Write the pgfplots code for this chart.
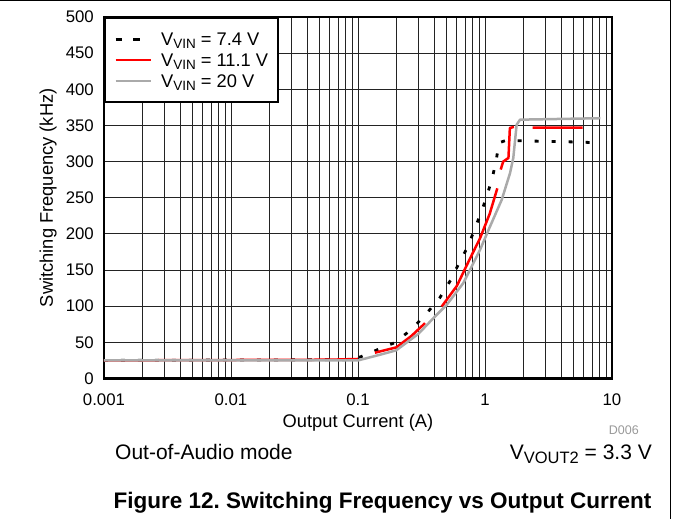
\documentclass[border=0pt]{standalone}
\usepackage{fontspec}
\setmainfont{Liberation Sans}
\usepackage{pgfplots}
\pgfplotsset{compat=1.18}
\usepackage{pgfplotstable}
\frenchspacing

\definecolor{curvegray}{RGB}{170,170,170}
\definecolor{gridc}{RGB}{35,35,35}

\newcommand{\lsub}[3]{\raisebox{-#2}{\fontsize{#1}{#1}\selectfont #3}}

\pgfplotstableread{
I f
0.001 25
0.08 26
0.105 30
0.143 40
0.195 49.6
0.264 68
0.347 90
0.442 112
0.536 136
0.627 160
0.738 183.5
0.834 208
0.94 231
1.04 254
1.14 277
1.22 300
1.29 326
1.5 330
1.65 329
3.05 328
5.6 327
7.7 326
}\blacktab

\pgfplotstableread{
I f
0.001 25
0.06 26
0.1 27
0.12 nan
0.136 35.7
0.2 43
0.264 59
0.337 76.5
0.39 nan
0.456 99.5
0.6 128
0.753 164
0.914 194
1.09 228
1.25 263
1.29 nan
1.33 289
1.39 300
1.53 305
1.57 346.5
1.69 348
2.0 nan
2.37 347
5.87 347
}\redtab

\pgfplotstableread{
I f
0.001 25
0.1 25
0.15 33
0.2 39
0.3 62
0.4 85
0.5 102
0.675 132
0.834 164
0.914 178
1.094 210
1.353 247
1.574 284
1.67 305
1.775 351
1.888 358
8.1 360
}\graytab

\begin{document}
\begin{tikzpicture}
\useasboundingbox (0,0) rectangle (673bp,519bp);
\draw[line width=1.2bp] (0,518.4bp) -- (670.4bp,518.4bp) -- (670.4bp,0);
\begin{axis}[
  at={(104bp,140.5bp)}, anchor=south west,
  scale only axis, width=508bp, height=361.5bp,
  xmode=log, xmin=0.001, xmax=10, ymin=0, ymax=500,
  xtick={0.001,0.01,0.1,1,10},
  xticklabels={0.001,0.01,0.1,1,10},
  ytick={0,50,...,500},
  /pgf/number format/assume math mode=true,
  grid=both,
  major grid style={gridc, line width=0.85bp},
  minor grid style={gridc, line width=0.85bp},
  tick style={draw=none},
  axis line style={line width=2.5bp},
  ticklabel style={font=\fontsize{16.8bp}{18bp}\selectfont},
  xticklabel style={anchor=base, inner sep=0pt, yshift=-27.5bp},
  yticklabel style={anchor=east, inner sep=0pt, xshift=-10bp},
  xlabel={Output Current (A)},
  ylabel={Switching Frequency (kHz)},
  label style={font=\fontsize{18.3bp}{20bp}\selectfont},
  xlabel style={at={(axis description cs:0.5,-0.1369)}, anchor=base, inner sep=0pt},
  ylabel style={at={(axis description cs:-0.1004,0.5)}, anchor=base, rotate=0, inner sep=0pt},
  unbounded coords=jump,
  legend style={at={(axis description cs:0,1)}, anchor=north west,
    draw=black, line width=2.5bp, fill=white,
    inner xsep=9bp, inner ysep=12bp,
    font=\fontsize{18.3bp}{20bp}\selectfont,
    row sep=3bp,
    /tikz/every odd column/.append style={column sep=8bp},
    nodes={inner sep=1bp, text height=14bp, text depth=2bp}},
  legend cell align=left,
  legend image code/.code={\draw[#1] (0bp,0bp) -- (35bp,0bp);},
]
\addplot[black, line width=2.8bp, dash pattern=on 4bp off 13bp,
  legend image post style={dash pattern=on 6.7bp off 11bp}]
  table[x=I,y=f]{\blacktab};
\addlegendentry{V\lsub{13.5bp}{3.5bp}{VIN} = 7.4 V}
\addplot[red, line width=2.5bp, line join=round] table[x=I,y=f]{\redtab};
\addlegendentry{V\lsub{13.5bp}{3.5bp}{VIN} = 11.1 V}
\addplot[curvegray, line width=2.5bp, line join=round] table[x=I,y=f]{\graytab};
\addlegendentry{V\lsub{13.5bp}{3.5bp}{VIN} = 20 V}
\end{axis}
\node[anchor=base east, inner sep=0pt, text=black!40, font=\fontsize{12.5bp}{14bp}\selectfont] at (639bp,84bp) {D006};
\node[anchor=base west, inner sep=0pt, font=\fontsize{21bp}{24bp}\selectfont] at (115bp,59bp) {Out-of-Audio mode};
\node[anchor=base east, inner sep=0pt, font=\fontsize{21bp}{24bp}\selectfont] at (652bp,59bp) {V\lsub{16.5bp}{4bp}{VOUT2} = 3.3 V};
\node[anchor=base, inner sep=0pt, font=\bfseries\fontsize{22.5bp}{26bp}\selectfont] at (382.5bp,11bp) {Figure 12. Switching Frequency vs Output Current};
\end{tikzpicture}
\end{document}
